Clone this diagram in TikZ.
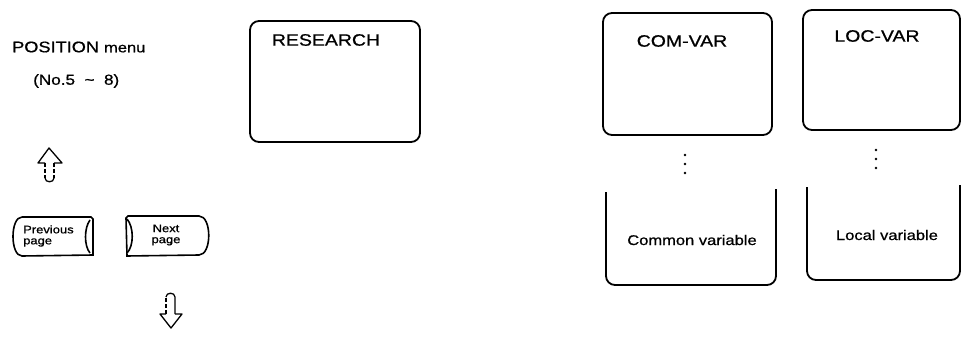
\documentclass[tikz,border=0pt]{standalone}
\usepackage{fontspec}
\setmainfont[FakeStretch=1.18,FakeBold=0.8]{Liberation Sans}
\begin{document}
\begin{tikzpicture}[x=1pt,y=-1pt,
  box/.style={draw, line width=1.8pt, rounded corners=9pt},
  ubox/.style={draw, line width=1.8pt, rounded corners=9pt},
  btn/.style={draw, line width=1.6pt},
  arr/.style={draw, line width=1.3pt, line join=round},
  arrdash/.style={draw, line width=1.3pt, dash pattern=on 4pt off 2pt},
  big/.style={inner sep=0pt, font=\fontsize{16.5}{19}\selectfont},
  mid/.style={inner sep=0pt, font=\fontsize{14}{17}\selectfont},
  small/.style={inner sep=0pt, font=\fontsize{11}{12}\selectfont, align=left},
  vdot/.style={fill, circle, inner sep=0pt, minimum size=2.8pt}]
\useasboundingbox (0,0) rectangle (965,339);

% left texts
\node[inner sep=0pt, anchor=west, font=\fontsize{15.4}{18}\selectfont] (posmenu) at (12,47) {POSITION \fontsize{14}{17}\selectfont menu};
\node[inner sep=0pt, anchor=west, font=\fontsize{14.5}{17}\selectfont] (nos) at (33,81) {(No.5 \ \textasciitilde\ \ 8)};

% up arrow
\draw[arr] (45,163) -- (38,163) -- (49,148) -- (62,163) -- (54,163);
\draw[arrdash] (45,163) -- (45,178);
\draw[arrdash] (54,163) -- (54,178);
\draw[arr] (45,178) .. controls (45,183) and (54,183) .. (54,178);

% Previous page button
\draw[btn] (22,217) -- (91,217) -- (93,219) -- (93,255) -- (22,256)
  .. controls (10,256) and (10,217) .. (22,217);
\draw[btn] (90,220) .. controls (84,228) and (84,246) .. (90,253);
\node[small, anchor=west] (prev) at (23,236) {Previous\\[-1pt]page};

% Next page button
\draw[btn] (128,216) -- (199,216) .. controls (212,216) and (212,255) .. (199,255)
  -- (127,256) -- (126,218) -- cycle;
\draw[btn] (127,219) .. controls (134,227) and (134,246) .. (127,253);
\node[small, align=center] (next) at (166,235) {Next\\[-1pt]page};

% down arrow
\draw[arrdash] (166,314) -- (166,297);
\draw[arr] (166,297) .. controls (166,292) and (175,292) .. (175,297) -- (175,314);
\draw[arr] (166,314) -- (160,314) -- (171,328) -- (182,314) -- (175,314);

% RESEARCH box
\node[box, minimum width=170pt, minimum height=121pt] (research) at (335,81.5) {};
\node[big] (researcht) at (326,40) {RESEARCH};

% COM-VAR box
\node[box, minimum width=169pt, minimum height=122pt] (comvar) at (687.5,74) {};
\node[big] (comvart) at (682,41) {COM-VAR};
\node[vdot] (cd1) at (685,155) {};
\node[vdot] (cd2) at (685,164) {};
\node[vdot] (cd3) at (685,173) {};
\draw[ubox] (606,192) -- (606,285) -- (776,285) -- (776,189);
\node[mid] (comt) at (692,240) {Common variable};

% LOC-VAR box
\node[box, minimum width=157pt, minimum height=120pt] (locvar) at (881.5,70) {};
\node[big] (locvart) at (877,36) {LOC-VAR};
\node[vdot] (ld1) at (876,150) {};
\node[vdot] (ld2) at (876,159) {};
\node[vdot] (ld3) at (876,168) {};
\draw[ubox] (807,187) -- (807,280) -- (960,280) -- (960,185);
\node[mid] (loct) at (887,235) {Local variable};
\end{tikzpicture}
\end{document}
